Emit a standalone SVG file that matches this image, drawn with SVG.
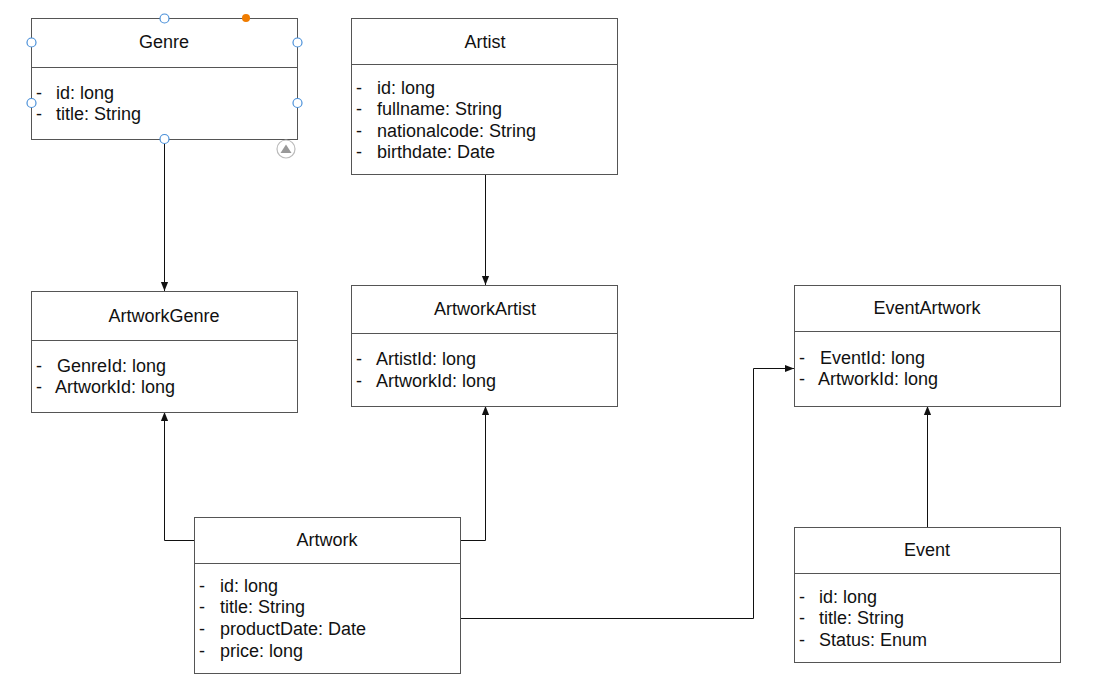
<svg xmlns="http://www.w3.org/2000/svg" width="1095" height="687" viewBox="0 0 1095 687">
<style>
.box{fill:#fff;stroke:#555;stroke-width:1}
.div{stroke:#555;stroke-width:1}
.t{font-family:"Liberation Sans",Arial,sans-serif;font-size:18px;fill:#111}
.c{text-anchor:middle}
.con{fill:none;stroke:#111;stroke-width:1}
.h{fill:#fff;stroke:#4a90d9;stroke-width:1.2}
</style>
<defs>
<marker id="arr" viewBox="0 0 10 10" refX="10" refY="5" markerWidth="9" markerHeight="9" markerUnits="userSpaceOnUse" orient="auto">
<path d="M0,1 L10,5 L0,9 z" fill="#111"/>
</marker>
</defs>
<rect width="1095" height="687" fill="#fff"/>
<g id="connectors">
<path class="con" d="M164.5,139 V291" marker-end="url(#arr)"/>
<path class="con" d="M485.5,174 V285" marker-end="url(#arr)"/>
<path class="con" d="M194,540.5 H164.5 V412" marker-end="url(#arr)"/>
<path class="con" d="M461,540.5 H485.5 V406" marker-end="url(#arr)"/>
<path class="con" d="M461,618.5 H753.5 V368.5 H794" marker-end="url(#arr)"/>
<path class="con" d="M927.5,527 V406" marker-end="url(#arr)"/>
</g>
<g id="Genre">
<rect class="box" x="31.5" y="18.5" width="266" height="121"/>
<line class="div" x1="31.5" y1="67.5" x2="297.5" y2="67.5"/>
<text class="t c" x="164" y="48">Genre</text>
<text class="t" x="36" y="99">-</text><text class="t" x="56" y="99">id: long</text>
<text class="t" x="36" y="120">-</text><text class="t" x="56" y="120">title: String</text>
<circle class="h" cx="164.5" cy="18.5" r="4.5"/>
<circle cx="246" cy="18" r="4" fill="#f07c00"/>
<circle class="h" cx="31.5" cy="42.5" r="4.5"/>
<circle class="h" cx="297.5" cy="42.5" r="4.5"/>
<circle class="h" cx="31.5" cy="103" r="4.5"/>
<circle class="h" cx="297.5" cy="103" r="4.5"/>
<circle class="h" cx="164.5" cy="139" r="4.5"/>
<circle cx="286" cy="149" r="9" fill="#fff" stroke="#bbb" stroke-width="1.2"/>
<path d="M280.5,153 L286,144.5 L291.5,153 z" fill="#999"/>
</g>
<g id="Artist">
<rect class="box" x="351.5" y="18.5" width="266" height="156"/>
<line class="div" x1="351.5" y1="64.5" x2="617.5" y2="64.5"/>
<text class="t c" x="485" y="48">Artist</text>
<text class="t" x="356" y="94">-</text><text class="t" x="377" y="94">id: long</text>
<text class="t" x="356" y="115">-</text><text class="t" x="377" y="115">fullname: String</text>
<text class="t" x="356" y="137">-</text><text class="t" x="377" y="137">nationalcode: String</text>
<text class="t" x="356" y="158">-</text><text class="t" x="377" y="158">birthdate: Date</text>
</g>
<g id="ArtworkGenre">
<rect class="box" x="31.5" y="291.5" width="266" height="121"/>
<line class="div" x1="31.5" y1="340.5" x2="297.5" y2="340.5"/>
<text class="t c" x="164" y="322">ArtworkGenre</text>
<text class="t" x="36" y="372">-</text><text class="t" x="57" y="372">GenreId: long</text>
<text class="t" x="36" y="393">-</text><text class="t" x="55" y="393">ArtworkId: long</text>
</g>
<g id="ArtworkArtist">
<rect class="box" x="351.5" y="285.5" width="266" height="121"/>
<line class="div" x1="351.5" y1="333.5" x2="617.5" y2="333.5"/>
<text class="t c" x="485" y="315">ArtworkArtist</text>
<text class="t" x="356" y="365">-</text><text class="t" x="376" y="365">ArtistId: long</text>
<text class="t" x="356" y="387">-</text><text class="t" x="376" y="387">ArtworkId: long</text>
</g>
<g id="EventArtwork">
<rect class="box" x="794.5" y="285.5" width="266" height="121"/>
<line class="div" x1="794.5" y1="331.5" x2="1060.5" y2="331.5"/>
<text class="t c" x="927" y="314">EventArtwork</text>
<text class="t" x="799" y="364">-</text><text class="t" x="820" y="364">EventId: long</text>
<text class="t" x="799" y="385">-</text><text class="t" x="818" y="385">ArtworkId: long</text>
</g>
<g id="Artwork">
<rect class="box" x="194.5" y="517.5" width="266" height="156"/>
<line class="div" x1="194.5" y1="563.5" x2="460.5" y2="563.5"/>
<text class="t c" x="327" y="546">Artwork</text>
<text class="t" x="199" y="592">-</text><text class="t" x="220" y="592">id: long</text>
<text class="t" x="199" y="613">-</text><text class="t" x="220" y="613">title: String</text>
<text class="t" x="199" y="635">-</text><text class="t" x="220" y="635">productDate: Date</text>
<text class="t" x="199" y="657">-</text><text class="t" x="220" y="657">price: long</text>
</g>
<g id="Event">
<rect class="box" x="794.5" y="527.5" width="266" height="135"/>
<line class="div" x1="794.5" y1="573.5" x2="1060.5" y2="573.5"/>
<text class="t c" x="927" y="556">Event</text>
<text class="t" x="799" y="603">-</text><text class="t" x="819" y="603">id: long</text>
<text class="t" x="799" y="624">-</text><text class="t" x="819" y="624">title: String</text>
<text class="t" x="799" y="646">-</text><text class="t" x="819" y="646">Status: Enum</text>
</g>
</svg>
